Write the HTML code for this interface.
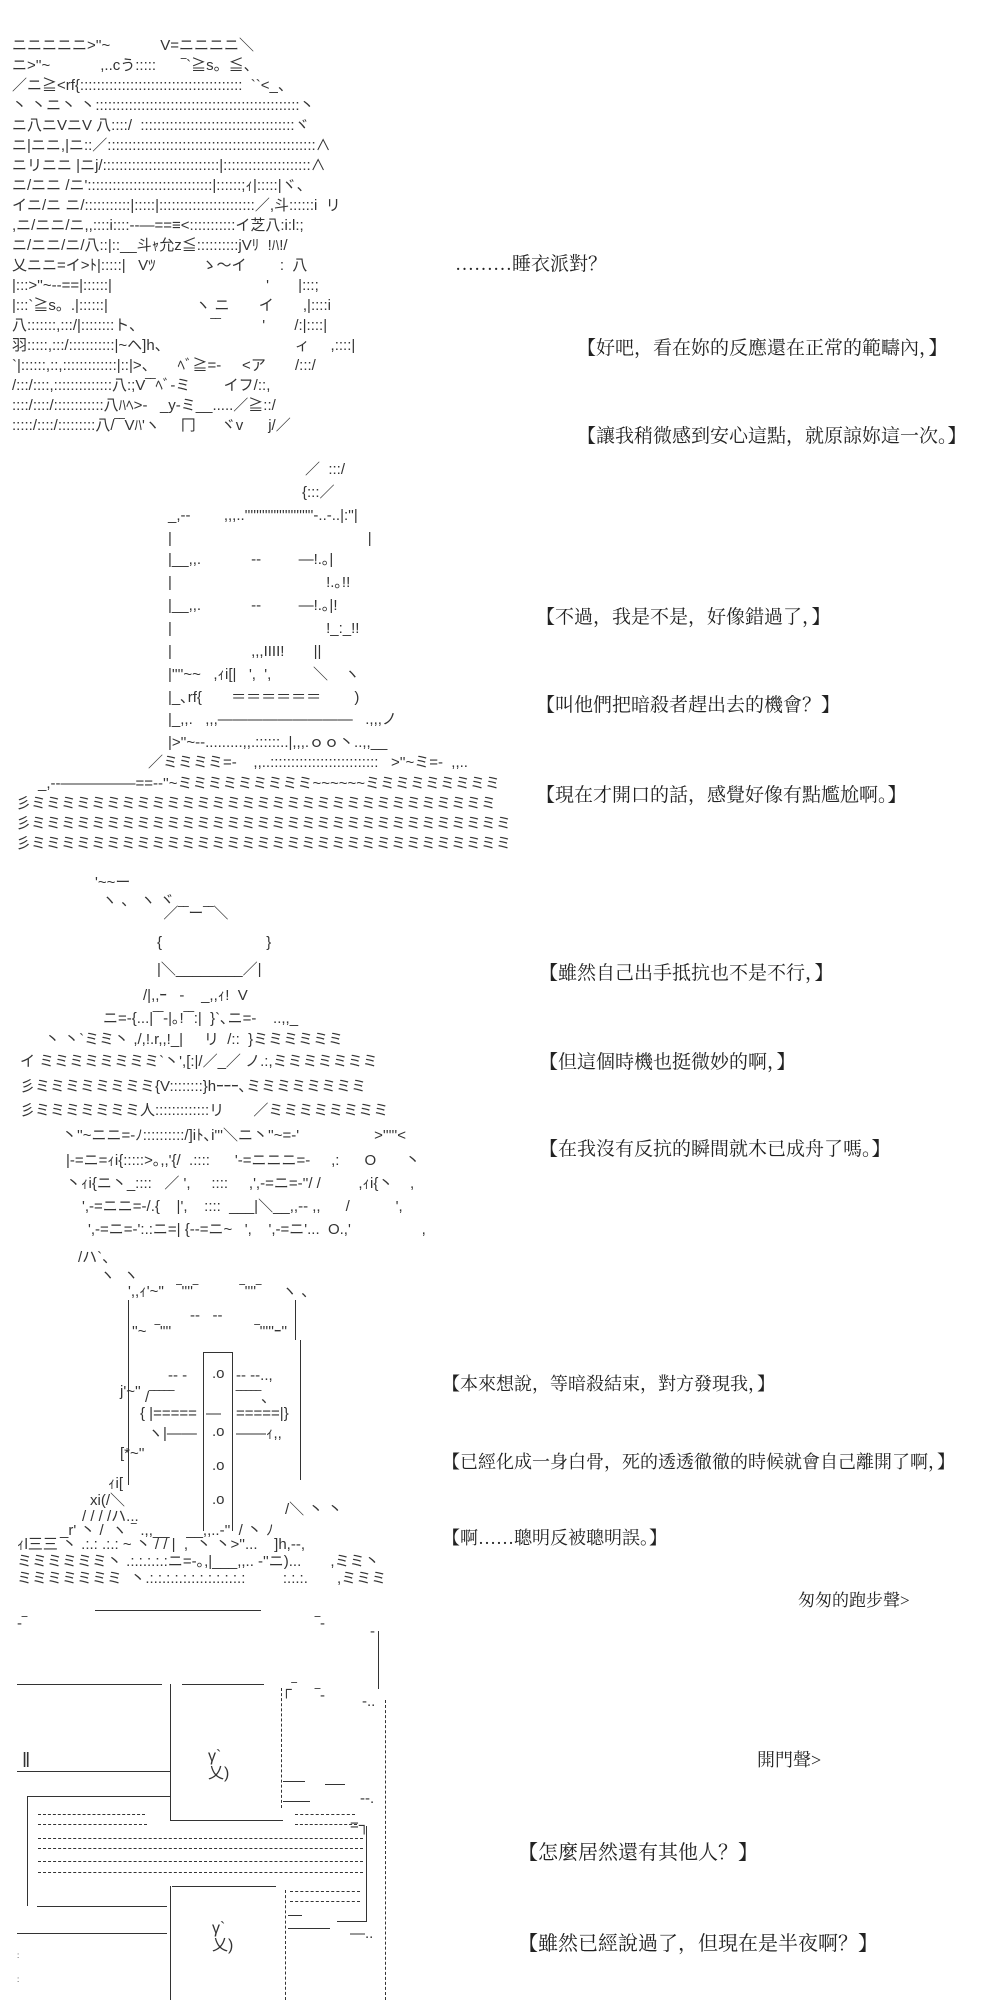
<!DOCTYPE html>
<html><head><meta charset="utf-8">
<style>
html,body{margin:0;padding:0;background:#fff;}
body{width:1000px;height:2000px;position:relative;overflow:hidden;}
.a{position:absolute;white-space:pre;font-family:"Liberation Sans","Noto Sans CJK JP",sans-serif;font-size:15px;line-height:15px;color:#333;}
.t{position:absolute;white-space:pre;font-family:"Liberation Serif","Noto Serif CJK SC","Noto Sans CJK TC",serif;font-size:19px;line-height:22px;color:#222;}
.h{position:absolute;height:0;border-top:1.5px solid #333;}
.v{position:absolute;width:0;border-left:1.5px solid #333;}
.vd{position:absolute;width:0;border-left:1.5px dashed #333;}
.hd{position:absolute;height:0;border-top:1.5px dashed #333;}
</style></head><body>

<!-- Block 1 art -->
<div class="a" style="left:12px;top:36px;line-height:20px;">ニニニニニ>''~            V=ニニニニ＼
ニ>''~            ,..cう:::::      ‾`≧s。≦、
／ニ≧&lt;rf{:::::::::::::::::::::::::::::::::::::::  ``&lt;_、
丶 丶ニ丶 丶:::::::::::::::::::::::::::::::::::::::::::::::::丶
ニ八ニVニV 八::::/  :::::::::::::::::::::::::::::::::::::ヾ
ニ|ニニ,|ニ::／::::::::::::::::::::::::::::::::::::::::::::::::::∧
ニリニニ |ニj/::::::::::::::::::::::::::::|:::::::::::::::::::::∧
ニ/ニニ /ニ'::::::::::::::::::::::::::::::|::::::;ｨ|:::::|ヾ、
イニ/ニ ニ/:::::::::::|:::::|:::::::::::::::::::::::／,斗::::::i  リ
,ニ/ニニ/ニ,,::::i::::--―==≡&lt;:::::::::::イ芝八:i:l:;
ニ/ニニ/ニ/八::|::__斗ｬ允z≦::::::::::jVﾘ  !ﾊ!/
乂ニニ=イ>ﾄ|:::::|   Vﾂ           ゝ〜イ        :  八
|:::>''~--==|::::::|                                     '       |:::;
|:::`≧s。.|::::::|                     ヽ ニ       イ       ,|::::i
八:::::::,:::/|::::::::ト、                ‾‾          '       /:|::::|
羽:::::,:::/:::::::::::|~ヘ]h、                              ィ     ,::::|
`|::::::,::,:::::::::::::|::|>、     ﾍﾞ≧=-     &lt;ア       /:::/
/:::/::::,::::::::::::::八:;V‾‾ﾍﾞ-ミ        イフ/::,
::::/::::/::::::::::::八ﾊﾍ>-   _y-ミ__.....／≧::/
:::::/::::/:::::::::八/‾‾Vﾊ'ヽ     冂      ヾv      j/／</div>

<div class="t" style="left:455px;top:254px;">………睡衣派對？</div>
<div class="t" style="left:577px;top:338px;">【好吧，看在妳的反應還在正常的範疇內，】</div>
<div class="t" style="left:577px;top:426px;">【讓我稍微感到安心這點，就原諒妳這一次。】</div>

<!-- Block 2 art -->
<div class="a" style="left:305px;top:462px;">／  :::/</div>
<div class="a" style="left:302px;top:485px;">{:::／</div>
<div class="a" style="left:168px;top:508px;">_,--        ,,,..''''''''''''''''''''''''-..-..|:''|</div>
<div class="a" style="left:168px;top:531px;">|                                               |</div>
<div class="a" style="left:168px;top:552px;">|__,,.            --         ―!.｡|</div>
<div class="a" style="left:168px;top:575px;">|                                     !.｡!!</div>
<div class="a" style="left:168px;top:598px;">|__,,.            --         ―!.｡|!</div>
<div class="a" style="left:168px;top:621px;">|                                     !_:_!!</div>
<div class="a" style="left:168px;top:644px;">|                   ,,,IIII!       ||</div>
<div class="a" style="left:168px;top:667px;">|''''~~   ,ｨi[|   ',  ',          ＼    ヽ</div>
<div class="a" style="left:168px;top:690px;">|_､rf{       ＝＝＝＝＝＝        )</div>
<div class="a" style="left:168px;top:712px;">|_,,.   ,,,―――――――――   .,,,ノ</div>
<div class="a" style="left:168px;top:735px;">|>''~--.........,,.::::::..|,,,.ｏｏ丶..,,__</div>
<div class="a" style="left:148px;top:755px;">／ミミミミ=-    ,,..::::::::::::::::::::::::::   >''~ミ=-  ,,..</div>
<div class="a" style="left:38px;top:776px;">_,--―――――==--''~ミミミミミミミミミ~~~~~~ミミミミミミミミミ</div>
<div class="a" style="left:16px;top:796px;">彡ミミミミミミミミミミミミミミミミミミミミミミミミミミミミミミミ</div>
<div class="a" style="left:16px;top:816px;">彡ミミミミミミミミミミミミミミミミミミミミミミミミミミミミミミミミ</div>
<div class="a" style="left:16px;top:836px;">彡ミミミミミミミミミミミミミミミミミミミミミミミミミミミミミミミミ</div>

<div class="t" style="left:536px;top:607px;">【不過，我是不是，好像錯過了，】</div>
<div class="t" style="left:536px;top:695px;">【叫他們把暗殺者趕出去的機會？】</div>
<div class="t" style="left:536px;top:785px;">【現在才開口的話，感覺好像有點尷尬啊。】</div>

<!-- Block 3 art -->
<div class="a" style="left:95px;top:875px;">'~~ー</div>
<div class="a" style="left:102px;top:893px;">ヽ 、 ヽ ヾ</div>
<div class="a" style="left:155px;top:906px;">  ／‾‾ー‾‾＼</div>
<div class="a" style="left:157px;top:935px;">{                         }</div>
<div class="a" style="left:157px;top:962px;">|＼________／|</div>
<div class="a" style="left:143px;top:988px;">/|,,ｰ   -    _,,ｨ!  V</div>
<div class="a" style="left:103px;top:1011px;">ニ=-{...|‾‾-|｡!‾‾:|  }`､ニ=-    ..,,_</div>
<div class="a" style="left:45px;top:1032px;">丶 丶`ミミ丶 ,/,!.r,,!_|     リ  /::  }ミミミミミミ</div>
<div class="a" style="left:20px;top:1054px;">イ ミミミミミミミミ`丶',[:|/／_／ ノ.:,ミミミミミミミ</div>
<div class="a" style="left:20px;top:1079px;">彡ミミミミミミミミ{V::::::::}hｰｰｰ､ミミミミミミミミ</div>
<div class="a" style="left:20px;top:1103px;">彡ミミミミミミミ人:::::::::::::リ       ／ミミミミミミミミ</div>
<div class="a" style="left:62px;top:1128px;">丶''~ニニ=-ﾉ::::::::::/]iﾄ､i'''＼ニ丶''~=-'                  >'''''&lt;</div>
<div class="a" style="left:66px;top:1153px;">|-=ニ=ｨi{:::::>｡,,'{/  .::::      '-=ニニニ=-     ,:      O       丶</div>
<div class="a" style="left:66px;top:1176px;">丶ｨi{ニ丶_::::   ／ ',     ::::     ,',-=ニ=-''/ /         ,ｨi{丶    ,</div>
<div class="a" style="left:82px;top:1199px;">',-=ニニ=-/.{    |',    ::::  ___|＼__,,-- ,,      /           ',</div>
<div class="a" style="left:88px;top:1222px;">',-=ニ=-':.:ニ=| {--=ニ~   ',    ',-=ニ'...  O.,'                 ,</div>

<div class="t" style="left:539px;top:963px;">【雖然自己出手抵抗也不是不行，】</div>
<div class="t" style="left:539px;top:1052px;">【但這個時機也挺微妙的啊，】</div>
<div class="t" style="left:539px;top:1139px;">【在我沒有反抗的瞬間就木已成舟了嗎。】</div>

<!-- Block 4 art (helmet) -->
<div class="a" style="left:78px;top:1250px;">/ハ`、</div>
<div class="a" style="left:100px;top:1268px;">ヽ  ヽ</div>
<div class="a" style="left:128px;top:1284px;">',,ｨ'~''   ‾''''‾          ‾''''‾     ヽ 、</div>
<div class="v" style="left:128px;top:1300px;height:185px;"></div>
<div class="v" style="left:295px;top:1300px;height:40px;"></div>
<div class="v" style="left:300px;top:1340px;height:140px;"></div>
<div class="a" style="left:190px;top:1308px;">--   --</div>
<div class="a" style="left:132px;top:1324px;">''~  ‾''''                    ‾'''''ｰ''</div>
<div style="position:absolute;left:203px;top:1352px;width:28px;height:178px;border:1.5px solid #333;border-bottom:none;"></div>
<div class="a" style="left:168px;top:1368px;">-- -</div>
<div class="a" style="left:212px;top:1366px;">.o</div>
<div class="a" style="left:236px;top:1368px;">-- --..,</div>
<div class="a" style="left:120px;top:1384px;">j'~''</div>
<div class="a" style="left:145px;top:1390px;">/‾‾‾‾‾</div>
<div class="a" style="left:236px;top:1390px;">‾‾‾‾‾、</div>
<div class="a" style="left:140px;top:1406px;">{ |=====</div>
<div class="a" style="left:206px;top:1406px;">—</div>
<div class="a" style="left:236px;top:1406px;">=====|}</div>
<div class="a" style="left:148px;top:1426px;">ヽ|——</div>
<div class="a" style="left:212px;top:1424px;">.o</div>
<div class="a" style="left:236px;top:1426px;">——ｨ,,</div>
<div class="a" style="left:120px;top:1446px;">[*~''</div>
<div class="a" style="left:212px;top:1458px;">.o</div>
<div class="a" style="left:212px;top:1492px;">.o</div>
<div class="a" style="left:108px;top:1476px;">ｨi[</div>
<div class="a" style="left:90px;top:1493px;">xi(/＼</div>
<div class="a" style="left:82px;top:1509px;">/ / / /ハ...</div>
<div class="a" style="left:285px;top:1502px;">/＼ 丶 丶</div>
<div class="a" style="left:60px;top:1523px;">_r' 丶 /  ヽ ‾ .,,__    __,,..-''  / 丶 ﾉ</div>
<div class="a" style="left:17px;top:1537px;">ｨl三三 丶 .:.: .:.: ~ 丶 / / |  ,  丶 丶>''...    ]h,--,</div>
<div class="a" style="left:17px;top:1554px;">ミミミミミミ丶 .:.:.:.:.:ニ=-｡,|___,,.. -''ニ)...       ,ミミ丶</div>
<div class="a" style="left:17px;top:1571px;">ミミミミミミミ  丶.:.:.:.:.:.:.:.:.:.:.:.:         :.:.:.       ,ミミミ</div>

<div class="t" style="left:442px;top:1373px;font-size:18px;">【本來想說，等暗殺結束，對方發現我，】</div>
<div class="t" style="left:442px;top:1451px;font-size:18px;">【已經化成一身白骨，死的透透徹徹的時候就會自己離開了啊，】</div>
<div class="t" style="left:442px;top:1527px;font-size:18px;">【啊……聰明反被聰明誤。】</div>
<div class="t" style="left:798px;top:1590px;font-size:17px;">匆匆的跑步聲&gt;</div>
<div class="t" style="left:757px;top:1749px;font-size:18px;">開門聲&gt;</div>
<div class="t" style="left:518px;top:1842px;font-size:20px;">【怎麼居然還有其他人？】</div>
<div class="t" style="left:518px;top:1933px;font-size:20px;">【雖然已經說過了，但現在是半夜啊？】</div>

<!-- Block 5 door -->
<div style="position:absolute;left:0;top:-12px;width:1000px;height:2012px;">
<div class="h" style="left:95px;top:1622px;width:166px;"></div>
<div class="a" style="left:17px;top:1628px;">-‾</div>
<div class="a" style="left:315px;top:1628px;">‾-</div>
<div class="a" style="left:370px;top:1636px;">-</div>
<div class="v" style="left:378px;top:1643px;height:58px;"></div>
<div class="h" style="left:17px;top:1696px;width:145px;"></div>
<div class="h" style="left:182px;top:1696px;width:82px;"></div>
<div class="v" style="left:170px;top:1696px;height:136px;"></div>
<div class="h" style="left:170px;top:1832px;width:113px;"></div>
<div class="vd" style="left:281px;top:1700px;height:120px;"></div>
<div class="a" style="left:281px;top:1694px;">┌‾</div>
<div class="a" style="left:315px;top:1700px;">‾-</div>
<div class="a" style="left:362px;top:1706px;">-..</div>
<div class="vd" style="left:385px;top:1712px;height:300px;"></div>
<div class="a" style="left:22px;top:1766px;font-size:20px;">‖</div>
<div class="a" style="left:208px;top:1760px;font-size:16px;line-height:17px;">γ`
乂)</div>
<div class="h" style="left:17px;top:1783px;width:153px;"></div>
<div class="h" style="left:27px;top:1808px;width:143px;"></div>
<div class="v" style="left:27px;top:1808px;height:110px;"></div>
<div class="h" style="left:283px;top:1793px;width:22px;"></div>
<div class="h" style="left:325px;top:1796px;width:20px;"></div>
<div class="a" style="left:360px;top:1803px;">--.</div>
<div class="h" style="left:283px;top:1813px;width:27px;"></div>
<div class="hd" style="left:38px;top:1826px;width:107px;"></div>
<div class="hd" style="left:38px;top:1836px;width:109px;"></div>
<div class="hd" style="left:295px;top:1826px;width:60px;"></div>
<div class="hd" style="left:295px;top:1836px;width:62px;"></div>
<div class="a" style="left:350px;top:1830px;">=┐</div>
<div class="v" style="left:366px;top:1838px;height:96px;"></div>
<div class="hd" style="left:38px;top:1850px;width:325px;"></div>
<div class="hd" style="left:38px;top:1860px;width:325px;"></div>
<div class="hd" style="left:38px;top:1873px;width:325px;"></div>
<div class="hd" style="left:38px;top:1884px;width:325px;"></div>
<div class="h" style="left:172px;top:1898px;width:104px;"></div>
<div class="v" style="left:170px;top:1898px;height:114px;"></div>
<div class="vd" style="left:285px;top:1902px;height:110px;"></div>
<div class="hd" style="left:290px;top:1903px;width:70px;"></div>
<div class="hd" style="left:290px;top:1913px;width:70px;"></div>
<div class="h" style="left:37px;top:1918px;width:130px;"></div>
<div class="h" style="left:288px;top:1927px;width:14px;"></div>
<div class="h" style="left:337px;top:1933px;width:29px;"></div>
<div class="h" style="left:288px;top:1940px;width:42px;"></div>
<div class="h" style="left:17px;top:1945px;width:150px;"></div>
<div class="a" style="left:350px;top:1938px;">—..</div>
<div class="a" style="left:212px;top:1932px;font-size:16px;line-height:17px;">γ`
乂)</div>
<div class="a" style="left:17px;top:1960px;font-size:8px;">:</div>
<div class="a" style="left:17px;top:1984px;font-size:8px;">:</div>
</div>
</body></html>
